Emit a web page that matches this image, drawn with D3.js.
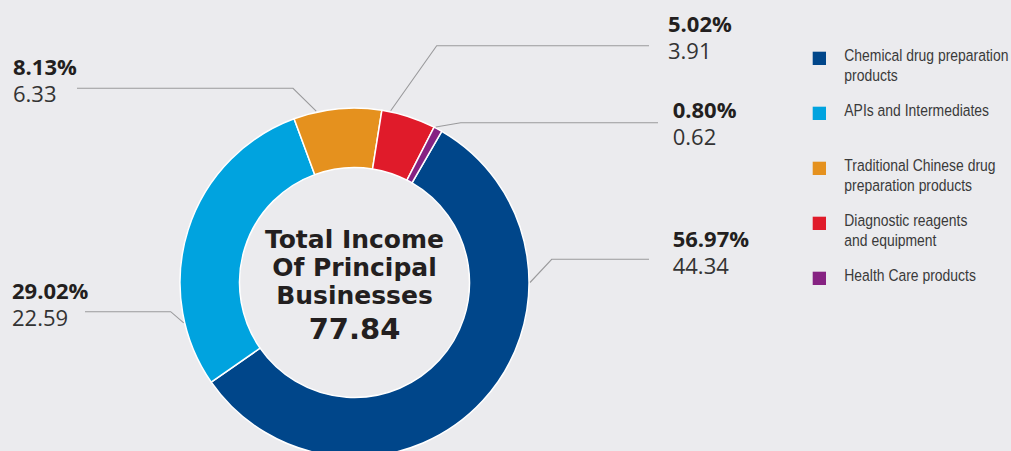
<!DOCTYPE html>
<html>
<head>
<meta charset="utf-8">
<script src="https://cdn.jsdelivr.net/npm/d3@7"></script>
<style>
  html, body { margin: 0; padding: 0; background: #ebebee; }
  svg { display: block; }
</style>
</head>
<body>
<svg id="chart" width="1011" height="451"></svg>
<script>
// ---- data ----
const categories = [
  "Chemical drug preparation products",
  "APIs and Intermediates",
  "Traditional Chinese drug preparation products",
  "Diagnostic reagents and equipment",
  "Health Care products"
];
const values = [44.34, 22.59, 6.33, 3.91, 0.62];
const percentLabels = ["56.97%", "29.02%", "8.13%", "5.02%", "0.80%"];
const valueLabels = ["44.34", "22.59", "6.33", "3.91", "0.62"];
const legendLines = [
  ["Chemical drug preparation", "products"],
  ["APIs and Intermediates"],
  ["Traditional Chinese drug", "preparation products"],
  ["Diagnostic reagents", "and equipment"],
  ["Health Care products"]
];
const centerTitle = ["Total Income", "Of Principal", "Businesses"];
const centerTotal = "77.84";

// ---- styles / layout ----
const colors = ["#00468a", "#00a3df", "#e5911e", "#e01b2a", "#862282"];
const W = 1011, H = 451;
const cx = 354.5, cy = 282.5, rOuter = 174.5, rInner = 115;
const startDeg = 30;

// label layout per slice: anchor angle on ring (deg), elbow point, horizontal end, text position
const labelLayout = [
  { ang: 90,    elbow: [551.7, 259.3], endX: 649, tx: 672.7, ty: 246.7 },
  { ang: 256.7, elbow: [170.7, 311.7], endX: 85,  tx: 12,    ty: 299 },
  { ang: -12.6, elbow: [293,   88.3],  endX: 77,  tx: 13,    ty: 75 },
  { ang: 11.9,  elbow: [436.7, 45.7],  endX: 649, tx: 668,   ty: 32.3 },
  { ang: 27.6,  elbow: [460.7, 122.7], endX: 658, tx: 672.7, ty: 118 }
];

const svg = d3.select("#chart");
svg.append("rect").attr("width", W).attr("height", H).attr("fill", "#ebebee");

const toRad = d => d * Math.PI / 180;
const pie = d3.pie().sort(null).value(d => d)
  .startAngle(toRad(startDeg)).endAngle(toRad(startDeg) + 2 * Math.PI);
const arcs = pie(values);
const arc = d3.arc().innerRadius(rInner).outerRadius(rOuter);

const g = svg.append("g").attr("transform", `translate(${cx},${cy})`);
g.selectAll("path.slice").data(arcs).enter().append("path")
  .attr("class", "slice")
  .attr("d", arc)
  .attr("fill", (d, i) => colors[i])
  .attr("stroke", "#ffffff")
  .attr("stroke-width", 1.5)
  .attr("stroke-linejoin", "miter");

// leader lines
const leader = svg.append("g");
labelLayout.forEach((L, i) => {
  const a = toRad(L.ang);
  const sx = cx + (rOuter + 1) * Math.sin(a);
  const sy = cy - (rOuter + 1) * Math.cos(a);
  leader.append("polyline")
    .attr("points", `${sx},${sy} ${L.elbow[0]},${L.elbow[1]} ${L.endX},${L.elbow[1]}`)
    .attr("fill", "none")
    .attr("stroke", "#9a9a9c")
    .attr("stroke-width", 1.1);
});

// labels (percent + value in one text block)
const labels = svg.append("g").attr("font-family", "'Open Sans', 'Noto Sans', sans-serif");
labelLayout.forEach((L, i) => {
  const t = labels.append("text")
    .attr("x", L.tx).attr("y", L.ty)
    .attr("font-size", 22);
  t.append("tspan")
    .attr("x", L.tx).attr("y", L.ty)
    .attr("font-weight", 700)
    .attr("fill", "#231f20")
    .text(percentLabels[i]);
  t.append("tspan")
    .attr("x", L.tx).attr("y", L.ty + 26.8)
    .attr("font-weight", 400)
    .attr("fill", "#333333")
    .text(valueLabels[i]);
});

// center text
const center = svg.append("g")
  .attr("font-family", "'DejaVu Sans', sans-serif")
  .attr("font-weight", 700)
  .attr("fill", "#231f20")
  .attr("text-anchor", "middle");
const titleY = [248.3, 276.3, 304];
centerTitle.forEach((t, i) => {
  center.append("text").attr("x", cx).attr("y", titleY[i])
    .attr("font-size", 25).text(t);
});
center.append("text").attr("x", cx).attr("y", 339.3)
  .attr("font-size", 29).text(centerTotal);

// legend
const legend = svg.append("g");
const legX = 812.7, legTextX = 844.3, legTop = 51.7, legStep = 55, sq = 13.3;
legendLines.forEach((lines, i) => {
  const y0 = legTop + i * legStep;
  legend.append("rect")
    .attr("x", legX).attr("y", y0)
    .attr("width", sq).attr("height", sq)
    .attr("fill", colors[i]);
  const t = legend.append("text")
    .attr("transform", `translate(${legTextX},${y0 + 9.3}) scale(0.82,1)`)
    .attr("font-family", "'Liberation Sans', Arial, sans-serif")
    .attr("font-size", 17)
    .attr("fill", "#3a3a3a");
  lines.forEach((ln, j) => {
    t.append("tspan").attr("x", 0).attr("y", j * 19.6).text(ln);
  });
});
</script>
</body>
</html>
